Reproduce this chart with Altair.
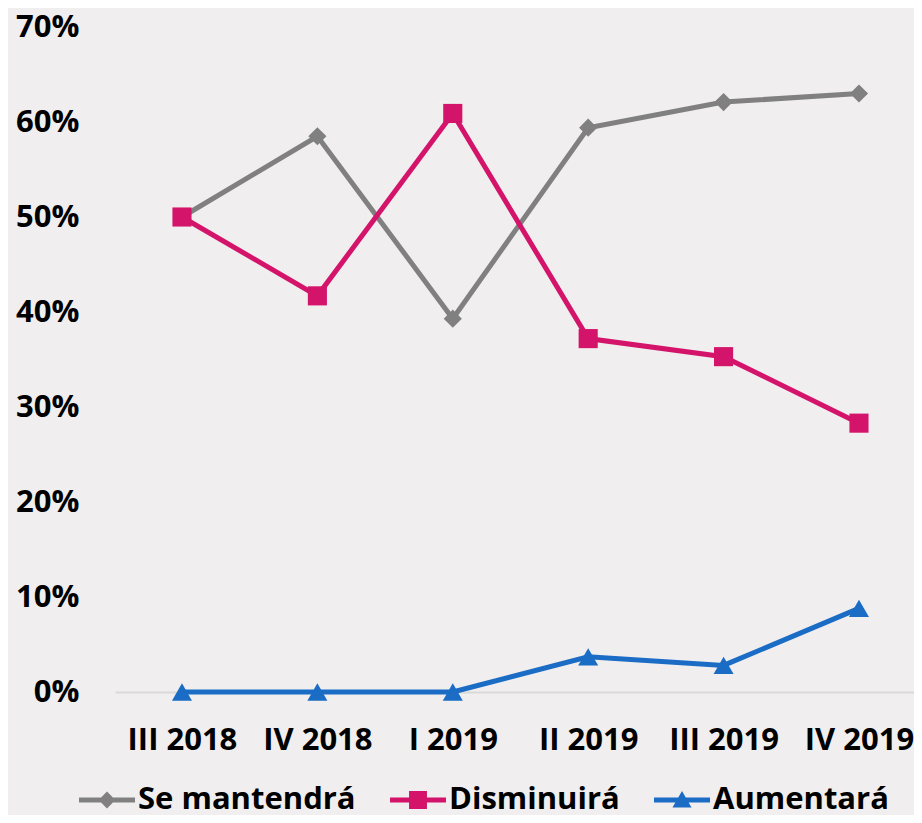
import altair as alt
import pandas as pd

quarters = ["III 2018", "IV 2018", "I 2019", "II 2019", "III 2019", "IV 2019"]
series_names = ["Se mantendrá", "Disminuirá", "Aumentará"]
se_mantendra = [0.500, 0.585, 0.393, 0.594, 0.621, 0.630]
disminuira = [0.500, 0.417, 0.609, 0.372, 0.353, 0.283]
aumentara = [0.000, 0.000, 0.000, 0.037, 0.028, 0.088]
colors = ["#808080", "#d4136a", "#1a6cc4"]
y_ticks = [0, 0.1, 0.2, 0.3, 0.4, 0.5, 0.6, 0.7]

rows = []
for name, vals in zip(series_names, [se_mantendra, disminuira, aumentara]):
    for q, v in zip(quarters, vals):
        rows.append({"quarter": q, "series": name, "value": v})
df = pd.DataFrame(rows)

FONT = "Open Sans"

x_enc = alt.X("quarter:N", sort=quarters, title=None,
              scale=alt.Scale(type="point", domain=quarters, padding=0.4505, align=0.549),
              axis=alt.Axis(labelAngle=0, ticks=False, domain=True, domainColor="#d9d9d9",
                            domainWidth=2, labelFontSize=31, labelFontWeight="bold",
                            labelColor="#000000", labelFont=FONT, labelPadding=33, grid=False))
y_enc = alt.Y("value:Q", title=None,
              scale=alt.Scale(domain=[0, 0.7], nice=False),
              axis=alt.Axis(values=y_ticks, format=".0%", ticks=False, domain=False, grid=False,
                            labelFontSize=31, labelFontWeight="bold", labelColor="#000000",
                            labelFont=FONT, labelPadding=36))


def color_enc(legend):
    return alt.Color("series:N", scale=alt.Scale(domain=series_names, range=colors), legend=legend)


lines = alt.Chart(df).mark_line(strokeWidth=5).encode(
    x=x_enc, y=y_enc, color=color_enc(None), detail="series:N",
)

points = alt.Chart(df).mark_point(filled=True, opacity=1, strokeWidth=0).encode(
    x=x_enc, y=y_enc,
    color=color_enc(None),
    shape=alt.Shape("series:N", scale=alt.Scale(domain=series_names,
                                                  range=["diamond", "square", "triangle-up"]),
                    legend=None),
    size=alt.Size("series:N", scale=alt.Scale(domain=series_names, range=[330, 400, 420]),
                  legend=None),
)

legend_paths = [
    "M-1,-0.09H1V0.09H-1Z M0,-0.3L0.3,0L0,0.3L-0.3,0Z",
    "M-1,-0.09H1V0.09H-1Z M-0.32,-0.32H0.32V0.32H-0.32Z",
    "M-1,-0.09H1V0.09H-1Z M0,-0.32L0.34,0.27H-0.34Z",
]

legend_def = alt.Legend(title=None, orient="none", direction="horizontal",
                        legendX=-36, legendY=745, symbolSize=3136,
                        symbolStrokeWidth=0, labelFontSize=31,
                        labelFontWeight="bold", labelFont=FONT,
                        labelColor="#000000", labelOffset=3, labelLimit=400,
                        columnPadding=34, symbolOpacity=1)

legend_layer = alt.Chart(df).transform_filter("false").mark_point(filled=True, strokeWidth=0).encode(
    x=x_enc, y=y_enc,
    color=color_enc(legend_def),
    shape=alt.Shape("series:N", scale=alt.Scale(domain=series_names, range=legend_paths),
                    legend=legend_def),
)

chart = alt.layer(lines, points, legend_layer).resolve_scale(
    color="independent", shape="independent", size="independent"
).properties(
    width=799, height=665,
    autosize=alt.AutoSizeParams(type="none"),
    padding={"left": 107, "top": 19, "right": 0, "bottom": 123},
    background="#f0eeef",
).configure_view(stroke=None)

chart.save("out.html", embed_options={"renderer": "svg", "actions": False})
